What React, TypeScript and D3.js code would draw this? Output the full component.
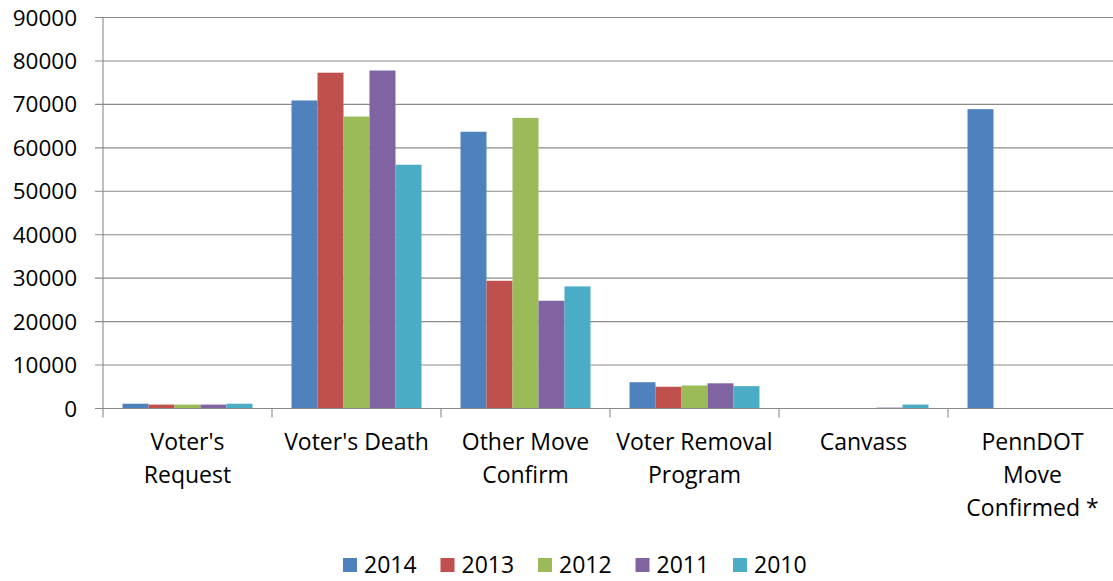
import React from 'react';
import * as d3 from 'd3';

const categories = [
  ["Voter's", 'Request'],
  ["Voter's Death"],
  ['Other Move', 'Confirm'],
  ['Voter Removal', 'Program'],
  ['Canvass'],
  ['PennDOT', 'Move', 'Confirmed *'],
];
const years = ['2014', '2013', '2012', '2011', '2010'];
const colors = ['#4F81BD', '#C0504D', '#9BBB59', '#8064A2', '#4BACC6'];

const v2014 = [1100, 70900, 63700, 6050, 0, 68900];
const v2013 = [900, 77300, 29400, 5000, 0, 0];
const v2012 = [900, 67200, 66900, 5300, 0, 0];
const v2011 = [900, 77800, 24800, 5800, 200, 0];
const v2010 = [1100, 56100, 28100, 5150, 900, 0];
const series = [v2014, v2013, v2012, v2011, v2010];

const yTicks = [0, 10000, 20000, 30000, 40000, 50000, 60000, 70000, 80000, 90000];

const W = 1113;
const H = 581;
const left = 103;
const right = 1117;
const top = 17.5;
const bottom = 408.5;
const font = "'Open Sans', sans-serif";

export default function App() {
  const y = d3.scaleLinear().domain([0, 90000]).range([bottom, top]);
  const x0 = d3.scaleBand<number>().domain(d3.range(categories.length)).range([left, right]);
  const bw = x0.bandwidth();
  const x1 = d3.scaleBand<number>().domain(d3.range(years.length)).range([19.5, bw - 19.5]);

  return (
    <svg width={W} height={H} style={{ position: 'absolute', left: 0, top: 0, background: '#fff' }}>
      {yTicks.map(t => (
        <g key={t}>
          <line x1={left - 8} x2={right} y1={y(t)} y2={y(t)} stroke="#8a8a8a" strokeWidth={1.1} />
          <text x={77} y={y(t)} dy="0.36em" textAnchor="end" fontFamily={font} fontSize={22.5} fill="#000">
            {t}
          </text>
        </g>
      ))}
      <line x1={left} x2={left} y1={top} y2={bottom} stroke="#8a8a8a" strokeWidth={1.1} />
      {d3.range(categories.length + 1).map(i => {
        const xx = left + i * bw;
        return <line key={i} x1={xx} x2={xx} y1={bottom} y2={bottom + 9} stroke="#8a8a8a" strokeWidth={1.1} />;
      })}
      {series.map((vals, s) =>
        vals.map((v, i) => (
          <rect
            key={`${s}-${i}`}
            x={(x0(i) ?? 0) + (x1(s) ?? 0)}
            y={y(v)}
            width={x1.bandwidth()}
            height={bottom - y(v)}
            fill={colors[s]}
          />
        ))
      )}
      <line x1={left} x2={right} y1={bottom} y2={bottom} stroke="#8a8a8a" strokeWidth={1.1} />
      {categories.map((lines, i) => (
        <text key={i} textAnchor="middle" fontFamily={font} fontSize={23} fill="#000">
          {lines.map((l, j) => (
            <tspan key={j} x={(x0(i) ?? 0) + bw / 2} y={450 + j * 33}>
              {l}
            </tspan>
          ))}
        </text>
      ))}
      {years.map((yr, s) => {
        const lx = 343 + s * 97.5;
        return (
          <g key={yr}>
            <rect x={lx} y={558} width={14} height={14} fill={colors[s]} />
            <text x={lx + 21} y={573} fontFamily={font} fontSize={23} fill="#000">
              {yr}
            </text>
          </g>
        );
      })}
    </svg>
  );
}
